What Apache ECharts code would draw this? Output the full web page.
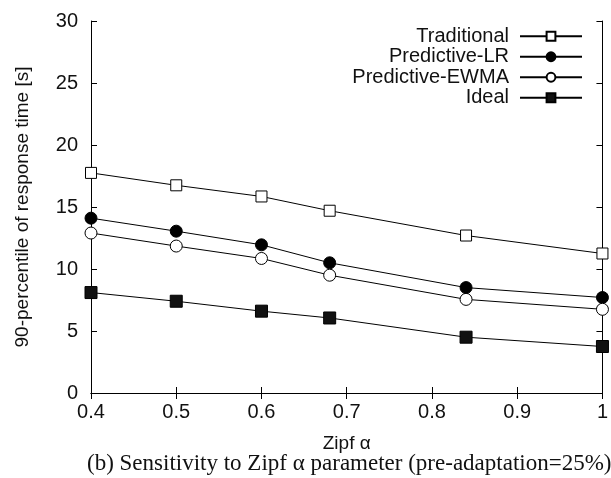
<!DOCTYPE html>
<html>
<head>
<meta charset="utf-8">
<script src="https://cdn.jsdelivr.net/npm/echarts@6/dist/echarts.min.js"></script>
<style>
  html, body { margin: 0; padding: 0; background: #fff; }
  #chart { width: 611px; height: 478px; }
</style>
</head>
<body>
<div id="chart"></div>
<script>
// 数据
const zipfAlpha = [0.4, 0.5, 0.6, 0.68, 0.84, 1.0];
const traditional = [17.75, 16.75, 15.85, 14.7, 12.7, 11.25];
const predictiveLR = [14.1, 13.05, 11.95, 10.5, 8.5, 7.7];
const predictiveEWMA = [12.9, 11.85, 10.85, 9.5, 7.55, 6.75];
const ideal = [8.1, 7.4, 6.6, 6.05, 4.5, 3.75];
const seriesNames = ['Traditional', 'Predictive-LR', 'Predictive-EWMA', 'Ideal'];

const font = 'Liberation Sans, Arial, sans-serif';

function pairs(ys) {
  return zipfAlpha.map((x, i) => [x, ys[i]]);
}

function lineSeries(name, ys, symbol, fill, size) {
  return {
    name: name,
    type: 'line',
    data: pairs(ys),
    symbol: symbol,
    symbolSize: size,
    showAllSymbol: true,
    lineStyle: { color: '#000', width: 1 },
    itemStyle: { color: fill, borderColor: '#000', borderWidth: 1 },
    emphasis: { disabled: true },
    z: 3
  };
}

const myChart = echarts.init(document.getElementById('chart'));

// 坐标轴公共样式
const axisLine = { show: true, lineStyle: { color: '#000', width: 1 } };
const axisTick = { show: true, inside: true, length: 6, lineStyle: { color: '#000', width: 1 } };

const option = {
  animation: false,
  textStyle: { fontFamily: font },
  grid: { left: 91, right: 3, top: 21, bottom: 85 },
  title: {
    text: '(b) Sensitivity to Zipf α parameter (pre-adaptation=25%)',
    left: 87,
    top: 452,
    padding: 0,
    textStyle: { fontFamily: 'Liberation Serif, Times New Roman, serif', fontSize: 23, fontWeight: 'normal', color: '#111' }
  },
  legend: {
    data: seriesNames,
    orient: 'vertical',
    align: 'right',
    right: 28,
    top: 26,
    itemWidth: 62,
    itemHeight: 11,
    itemGap: 0,
    padding: 0,
    textStyle: { fontFamily: font, fontSize: 20, color: '#111', lineHeight: 20.5, padding: [0, 6, 0, 0] }
  },
  xAxis: [
    {
      type: 'value',
      min: 0.4,
      max: 1,
      interval: 0.1,
      position: 'bottom',
      name: 'Zipf α',
      nameLocation: 'middle',
      nameGap: 41,
      nameTextStyle: { fontFamily: font, fontSize: 19, color: '#111' },
      axisLine: axisLine,
      axisTick: axisTick,
      axisLabel: { fontSize: 20, color: '#111', margin: 9 },
      splitLine: { show: false }
    },
    {
      type: 'value',
      min: 0.4,
      max: 1,
      interval: 0.1,
      position: 'top',
      axisLine: axisLine,
      axisTick: axisTick,
      axisLabel: { show: false },
      splitLine: { show: false }
    }
  ],
  yAxis: [
    {
      type: 'value',
      min: 0,
      max: 30,
      interval: 5,
      position: 'left',
      name: '90-percentile of response time [s]',
      nameLocation: 'middle',
      nameGap: 59,
      nameTextStyle: { fontFamily: font, fontSize: 19, color: '#111' },
      axisLine: axisLine,
      axisTick: axisTick,
      axisLabel: { fontSize: 20, color: '#111', margin: 13 },
      splitLine: { show: false }
    },
    {
      type: 'value',
      min: 0,
      max: 30,
      interval: 5,
      position: 'right',
      axisLine: axisLine,
      axisTick: axisTick,
      axisLabel: { show: false },
      splitLine: { show: false }
    }
  ],
  series: [
    lineSeries('Traditional', traditional, 'rect', '#fff', 11),
    lineSeries('Predictive-LR', predictiveLR, 'circle', '#000', 12),
    lineSeries('Predictive-EWMA', predictiveEWMA, 'circle', '#fff', 12),
    lineSeries('Ideal', ideal, 'rect', '#111', 12)
  ]
};

myChart.setOption(option);
</script>
</body>
</html>
